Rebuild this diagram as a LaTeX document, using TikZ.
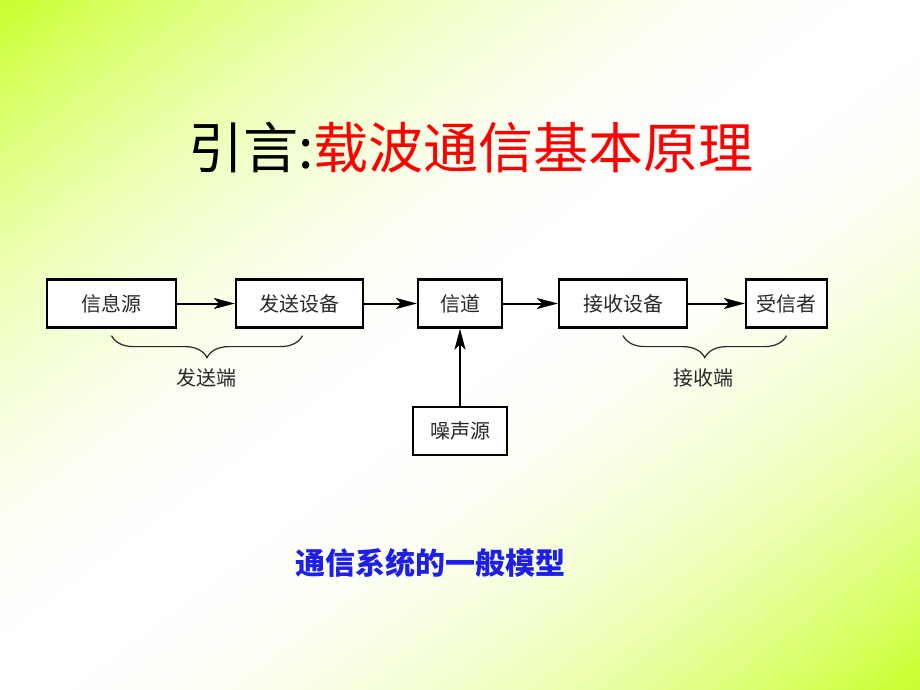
\documentclass[tikz,border=0pt]{standalone}
\usepackage{fontspec}
\newfontfamily\cjk{Noto Sans CJK SC}
\usetikzlibrary{arrows.meta,decorations.pathreplacing,calc}
\definecolor{lime}{RGB}{204,255,51}
\definecolor{boxtext}{RGB}{40,40,40}
\definecolor{subblue}{RGB}{30,30,235}
\tikzset{
  blockbox/.style={draw=black, line width=2.2pt, fill=white, inner sep=0pt,
    minimum height=48pt, font=\cjk\fontsize{20}{24}\selectfont, text=boxtext},
  flow/.style={line width=2pt, -{Stealth[length=21pt,width=11pt,inset=5pt]}},
  bracesty/.style={decorate, decoration={brace, mirror, amplitude=22pt}, line width=1.2pt, draw=boxtext},
  bracelabel/.style={font=\cjk\fontsize{20}{24}\selectfont, text=boxtext, inner sep=0pt}
}
\begin{document}
\begin{tikzpicture}[x=1pt,y=-1pt]
\useasboundingbox (0,0) rectangle (920,690);
% diagonal background gradient: lime at top-left and bottom-right, white along the anti-diagonal
\begin{scope}
\clip (0,0) rectangle (920,690);
\foreach \i in {0,...,79} {
  \pgfmathsetmacro{\sa}{\i/40}
  \pgfmathsetmacro{\sb}{(\i+1)/40+0.004}
  \pgfmathsetmacro{\f}{min(100,(abs((\i+0.5)/40-1))^2*105)}
  \fill[lime!\f!white] ({920*(\sa+2)},-1380) -- ({920*(\sa-2)},1380) -- ({920*(\sb-2)},1380) -- ({920*(\sb+2)},-1380) -- cycle;
}
\end{scope}

\node[font=\cjk\fontsize{55}{60}\selectfont, inner sep=0pt] (title) at (471,148) {引言:\textcolor{red}{载波通信基本原理}};

\node[blockbox, minimum width=129pt] (src) at (111.5,303.5) {信息源};
\node[blockbox, minimum width=127pt] (tx) at (299.5,303.5) {发送设备};
\node[blockbox, minimum width=84pt] (ch) at (460,303.5) {信道};
\node[blockbox, minimum width=128pt] (rx) at (623,303.5) {接收设备};
\node[blockbox, minimum width=81pt] (dst) at (786.5,303.5) {受信者};
\node[blockbox, minimum width=94pt] (noise) at (460,431) {噪声源};

\draw[flow] (src) -- (tx);
\draw[flow] (tx) -- (ch);
\draw[flow] (ch) -- (rx);
\draw[flow] (rx) -- (dst);
\draw[flow] (noise) -- (ch);

\coordinate (b1s) at ($(src.south)+(0,7)$);
\coordinate (b1e) at ($(tx.south)+(3,7)$);
\coordinate (b2s) at ($(rx.south)+(0,7)$);
\coordinate (b2e) at ($(dst.south)+(0,7)$);
\draw[bracesty] (b1s) -- (b1e);
\draw[bracesty] (b2s) -- (b2e);

\node[bracelabel] (txlab) at (206,378) {发送端};
\node[bracelabel] (rxlab) at (703,378) {接收端};

\node[font=\cjk\bfseries\fontsize{30}{34}\selectfont, text=subblue, inner sep=0pt] (sub) at (430,563) {通信系统的一般模型};
\end{tikzpicture}
\end{document}
